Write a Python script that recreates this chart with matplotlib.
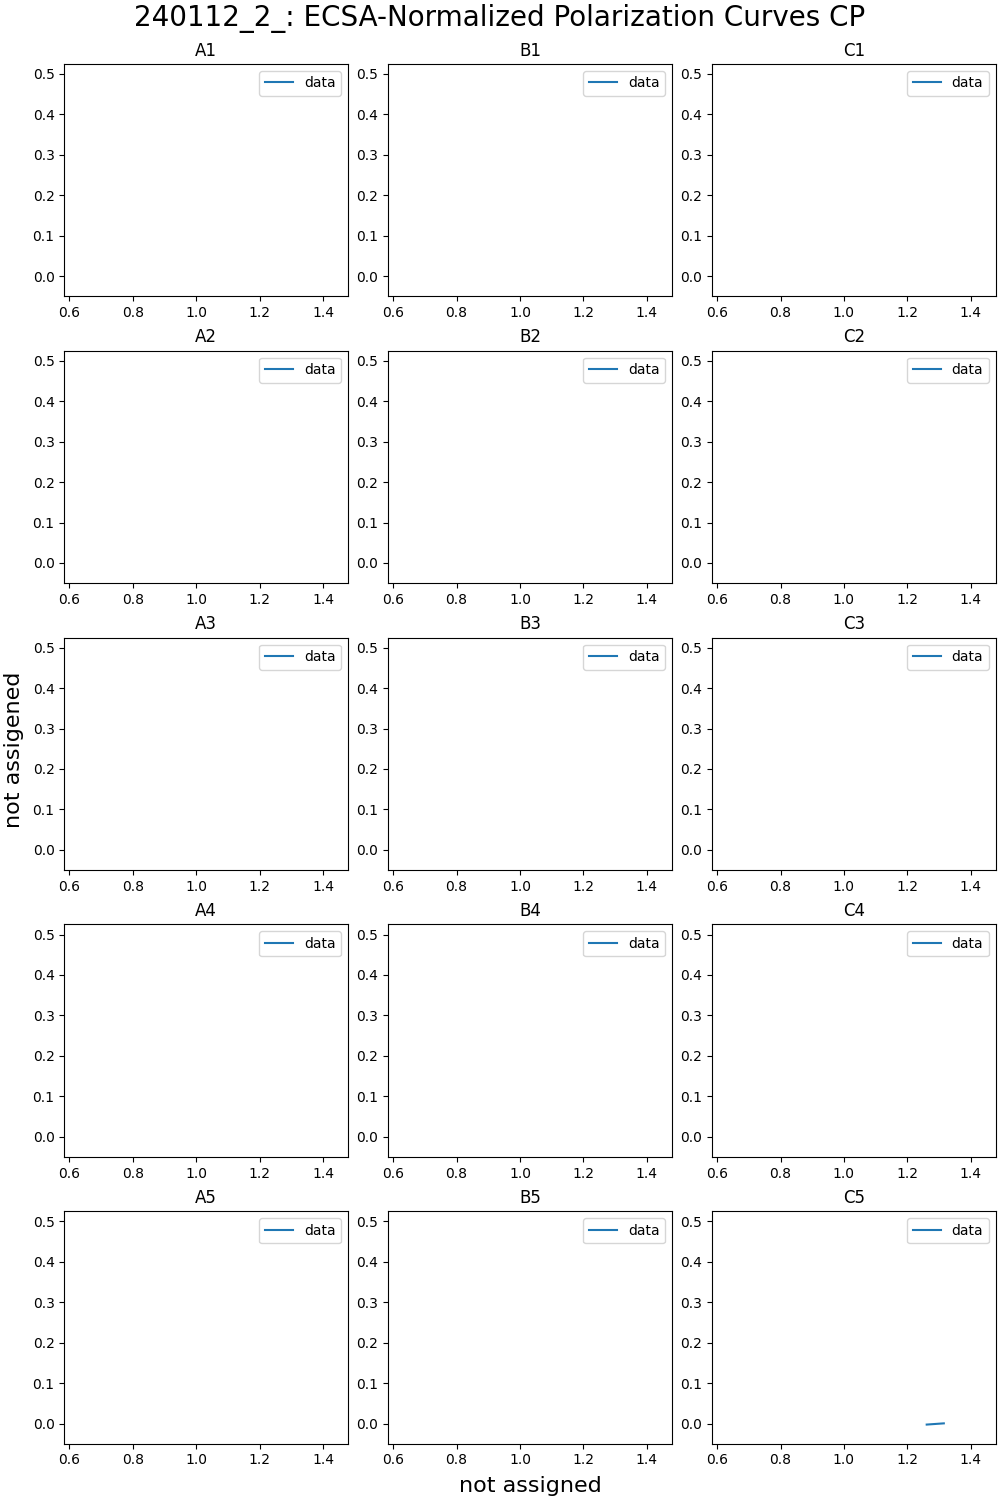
import matplotlib
matplotlib.use("Agg")
import matplotlib.pyplot as plt
import numpy as np

# well names, column letters x row numbers
cols = ["A", "B", "C"]
rows = [1, 2, 3, 4, 5]

# only C5 has any points
c5_potential = [1.261, 1.315]
c5_current = [-0.0025, 0.0005]

data = {"C5": (c5_potential, c5_current)}

fig, axes = plt.subplots(5, 3, figsize=(10, 15), layout="constrained")

for i, r in enumerate(rows):
    for j, c in enumerate(cols):
        ax = axes[i, j]
        name = f"{c}{r}"
        x, y = data.get(name, ([], []))
        ax.plot(x, y, label="data")
        ax.set_title(name)
        ax.set_xlim(0.584, 1.479)
        ax.set_ylim(-0.05, 0.525)
        ax.legend(loc="upper right")

fig.suptitle("240112_2_: ECSA-Normalized Polarization Curves CP", fontsize=20)
fig.supxlabel("not assigned", fontsize=16, x=0.53)
fig.supylabel("not assigened", fontsize=16)

plt.savefig("out.png", dpi=100)
